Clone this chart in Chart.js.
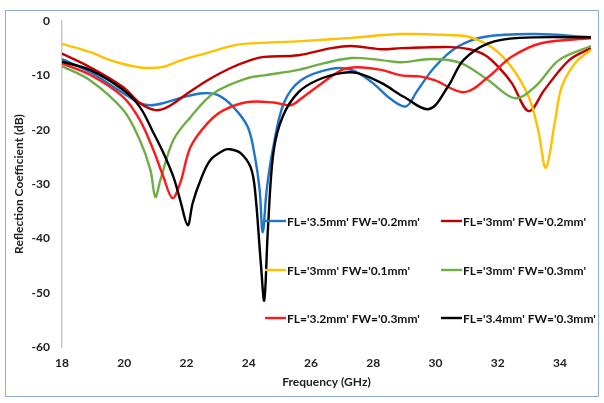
<!DOCTYPE html>
<html>
<head>
<meta charset="utf-8">
<script src="https://cdn.jsdelivr.net/npm/chart.js@4.4.1/dist/chart.umd.min.js"></script>
<style>
  html, body { margin: 0; padding: 0; background: #fff; }
  #wrap { position: relative; width: 604px; height: 403px; }
  #frame { position: absolute; left: 5px; top: 10px; width: 594px; height: 387px;
           border: 1.5px solid #8eaadc; box-sizing: border-box; }
  canvas { position: absolute; left: 0; top: 0; }
</style>
</head>
<body>
<div id="wrap">
  <div id="frame"></div>
  <canvas id="rcChart" width="604" height="403"></canvas>
</div>
<script>
// Reflection coefficient (dB) vs frequency (GHz) for each stub geometry
const xTicks = [18, 20, 22, 24, 26, 28, 30, 32, 34];
const yTicks = [0, -10, -20, -30, -40, -50, -60];

const labels = [
  "FL='3.5mm' FW='0.2mm'",
  "FL='3mm' FW='0.2mm'",
  "FL='3mm' FW='0.1mm'",
  "FL='3mm' FW='0.3mm'",
  "FL='3.2mm' FW='0.3mm'",
  "FL='3.4mm' FW='0.3mm'"
];
const colors = ['#1f75c6', '#c00000', '#ffc000', '#70ad47', '#ff1a1a', '#000000'];

const freqA = [18, 18.9, 19.97, 20.5, 20.84, 21.26, 21.9, 22.55, 23.0, 23.5, 23.97, 24.2, 24.35, 24.45, 24.58, 24.77, 25.13, 25.68, 26.65, 27.3, 27.94, 28.6, 29.06, 29.4, 29.97, 30.7, 31.6, 33.2, 35];
const s11A  = [-7.0, -9.4, -13.3, -15.1, -15.5, -15.1, -14.0, -13.3, -13.6, -15.8, -19.5, -25, -31, -38.9, -31, -23.8, -15.1, -10.9, -8.8, -9.0, -11.2, -14.5, -15.7, -13.0, -8.5, -4.8, -2.9, -2.4, -3.0];

const freqB = [18, 18.9, 19.97, 20.5, 21.0, 21.4, 22.04, 22.68, 23.4, 24.06, 24.5, 25.6, 26.65, 27.3, 28.26, 28.9, 30.5, 31.1, 31.6, 32.0, 32.45, 33.0, 33.5, 34.3, 35];
const s11B  = [-6.0, -8.5, -12.2, -15.1, -16.4, -15.8, -13.3, -10.9, -8.7, -7.2, -6.6, -6.3, -5.0, -4.6, -5.2, -5.0, -4.8, -5.2, -6.3, -8.3, -11.4, -16.6, -12.7, -7.2, -5.0];

const freqC = [18, 19.0, 19.45, 20.1, 20.6, 21.2, 21.8, 22.2, 23.0, 23.7, 25.7, 27.3, 28.9, 30.5, 31.06, 31.8, 32.45, 33.0, 33.3, 33.55, 33.85, 34.06, 34.5, 35];
const s11C  = [-4.2, -5.9, -7.0, -8.1, -8.6, -8.5, -7.3, -6.6, -5.3, -4.3, -3.7, -3.1, -2.4, -2.6, -2.9, -4.8, -8.5, -14.0, -20.0, -27.0, -18.2, -12.1, -7.7, -5.3];

const freqD = [18, 18.9, 19.97, 20.5, 20.84, 21.0, 21.16, 21.58, 22.13, 22.87, 23.97, 24.5, 25.6, 26.4, 27.3, 28.26, 28.9, 29.87, 30.8, 31.7, 32.55, 33.2, 33.97, 35];
const s11D  = [-8.3, -10.9, -16.4, -21.9, -27.4, -32.4, -29.3, -21.9, -17.7, -13.3, -10.5, -10.0, -9.0, -7.8, -6.8, -7.2, -7.6, -7.0, -7.7, -10.9, -14.2, -12.1, -7.2, -4.6];

const freqE = [18, 18.9, 19.97, 20.5, 20.94, 21.26, 21.55, 21.8, 22.13, 22.68, 23.2, 23.97, 24.8, 25.35, 25.7, 26.2, 27.0, 27.5, 28.26, 28.9, 29.5, 29.97, 30.94, 31.7, 32.45, 33.4, 35];
const s11E  = [-7.8, -9.9, -14.0, -18.2, -23.8, -28.7, -32.6, -29.8, -23.2, -18.8, -16.4, -14.9, -15.0, -15.5, -14.2, -12.1, -9.0, -8.5, -9.0, -10.0, -10.2, -10.9, -13.1, -10.3, -6.6, -4.1, -3.2];

const freqF = [18, 18.9, 19.97, 20.5, 20.94, 21.26, 21.58, 21.8, 22.04, 22.2, 22.45, 22.77, 23.2, 23.4, 23.74, 24.06, 24.2, 24.39, 24.5, 24.62, 24.8, 25.1, 25.6, 26.2, 26.97, 27.5, 28.26, 29.0, 29.8, 30.4, 30.9, 31.7, 32.7, 35];
const s11F  = [-7.5, -9.0, -12.7, -15.8, -20.6, -24.3, -28.7, -33.0, -37.6, -33.5, -29.3, -25.6, -23.8, -23.6, -24.3, -26.9, -31, -44.6, -51.4, -38, -24, -17.5, -13.1, -10.9, -9.6, -9.6, -11.4, -14.0, -16.2, -12.1, -7.2, -4.1, -3.1, -3.0];

const freqs = [freqA, freqB, freqC, freqD, freqE, freqF];
const values = [s11A, s11B, s11C, s11D, s11E, s11F];

const FONT = 'Lato, "Open Sans", sans-serif';

const datasets = labels.map(function(label, i) {
  return {
    label: label,
    data: freqs[i].map(function(f, k) { return { x: f, y: values[i][k] }; }),
    borderColor: colors[i],
    borderWidth: 2.4,
    pointRadius: 0,
    fill: false,
    tension: 0.35,
    order: labels.length - i
  };
});

// legend drawn inside the plot, two columns by three rows
const insideLegend = {
  id: 'insideLegend',
  afterDatasetsDraw: function(chart) {
    const ctx = chart.ctx;
    const a = chart.chartArea;
    const cols = [a.left + 203, a.left + 379];
    const rows = [a.top + 200, a.top + 249, a.top + 297];
    ctx.save();
    ctx.font = 'bold 12px ' + FONT;
    ctx.textBaseline = 'middle';
    labels.forEach(function(label, i) {
      const x = cols[i % 2];
      const y = rows[Math.floor(i / 2)];
      ctx.strokeStyle = colors[i];
      ctx.lineWidth = 2.4;
      ctx.beginPath();
      ctx.moveTo(x, y);
      ctx.lineTo(x + 21, y);
      ctx.stroke();
      ctx.fillStyle = '#111';
      ctx.fillText(label, x + 22, y + 1);
    });
    ctx.restore();
  }
};

const ctx = document.getElementById('rcChart').getContext('2d');
new Chart(ctx, {
  type: 'line',
  data: { datasets: datasets },
  options: {
    responsive: false,
    animation: false,
    layout: { padding: { left: 10, right: 13, top: 21, bottom: 10 } },
    plugins: { legend: { display: false }, tooltip: { enabled: false } },
    scales: {
      x: {
        type: 'linear',
        min: 18,
        max: 35,
        grid: { display: false, drawTicks: false },
        border: { display: false },
        afterBuildTicks: function(scale) {
          scale.ticks = xTicks.map(function(v) { return { value: v }; });
        },
        afterFit: function(scale) { scale.height = 46; },
        ticks: { padding: 9, color: '#222', font: { family: FONT, size: 12, weight: 'bold' } },
        title: {
          display: true,
          text: 'Frequency (GHz)',
          color: '#222',
          padding: { top: 0, bottom: 4 },
          font: { family: FONT, size: 12, weight: 'bold' }
        }
      },
      y: {
        min: -60,
        max: 0,
        grid: { display: false, drawTicks: false },
        border: { display: true, color: '#c8c8c8', width: 1.5 },
        afterBuildTicks: function(scale) {
          scale.ticks = yTicks.map(function(v) { return { value: v }; });
        },
        afterFit: function(scale) { scale.width = 52; },
        ticks: { padding: 12, color: '#222', font: { family: FONT, size: 12, weight: 'bold' } },
        title: {
          display: true,
          text: 'Reflection Coefficient (dB)',
          color: '#222',
          padding: { top: 2, bottom: 0 },
          font: { family: FONT, size: 12, weight: 'bold' }
        }
      }
    }
  },
  plugins: [insideLegend]
});
</script>
</body>
</html>
